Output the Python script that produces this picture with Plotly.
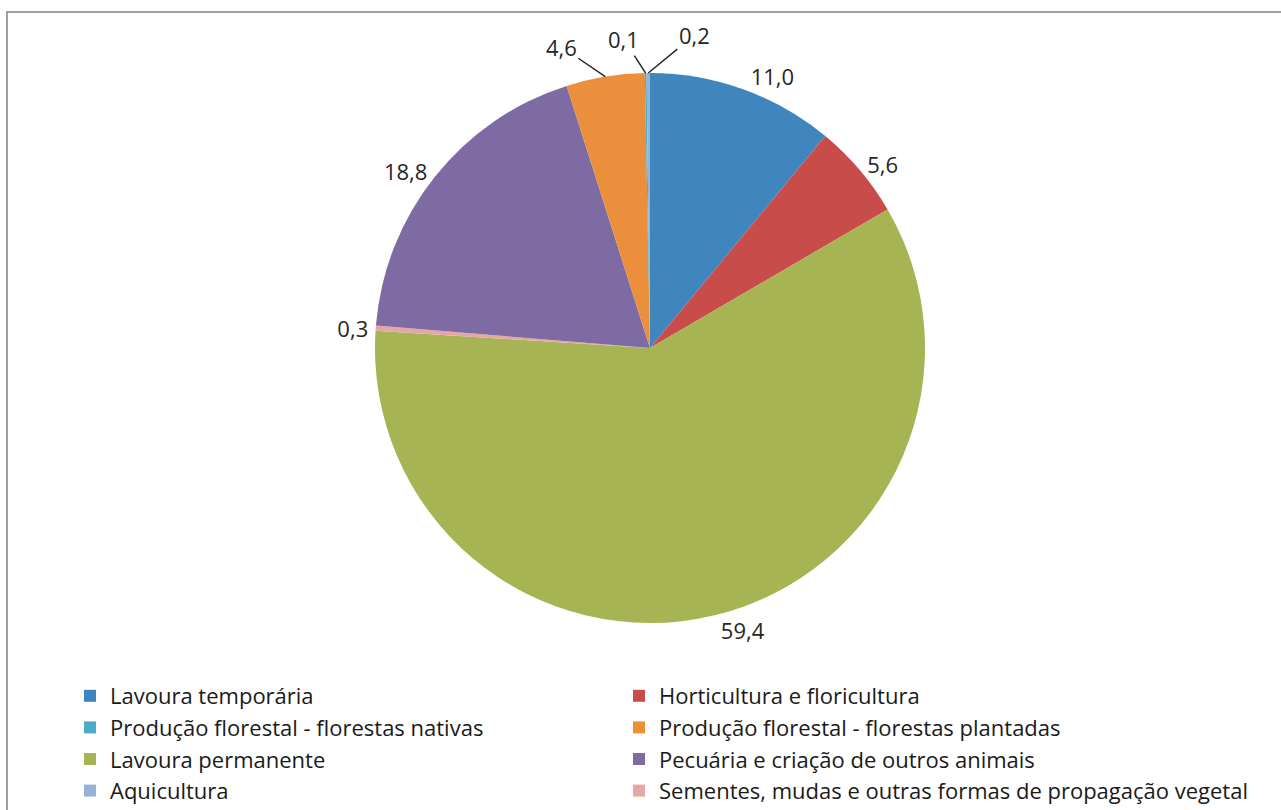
import math
import plotly.graph_objects as go

# Slice order, clockwise from 12 o'clock
labels = [
    "Lavoura temporária",
    "Horticultura e floricultura",
    "Lavoura permanente",
    "Sementes, mudas e outras formas de propagação vegetal",
    "Pecuária e criação de outros animais",
    "Produção florestal - florestas plantadas",
    "Produção florestal - florestas nativas",
    "Aquicultura",
]
values = [11.0, 5.6, 59.4, 0.3, 18.8, 4.6, 0.1, 0.2]
colors = ["#3F86BF", "#C84D4A", "#A6B453", "#E5A7A5", "#7F6BA3", "#EC8F3C", "#4BACC6", "#95B3D7"]

# Legend columns as shown in the reference
legend_col1 = [
    "Lavoura temporária",
    "Produção florestal - florestas nativas",
    "Lavoura permanente",
    "Aquicultura",
]
legend_col2 = [
    "Horticultura e floricultura",
    "Produção florestal - florestas plantadas",
    "Pecuária e criação de outros animais",
    "Sementes, mudas e outras formas de propagação vegetal",
]
# slices whose labels are drawn as callouts with leader lines (label offsets in px)
callouts = {"Produção florestal - florestas plantadas": (-44, -30),
            "Produção florestal - florestas nativas": (-22, -34),
            "Aquicultura": (46, -38)}

W, H = 1281, 810
cx, cy, r = 650, 348, 275
FONT = "Open Sans"
TXT = "#262626"
LBL = 22

texts = ["" if lab in callouts else f"{v:.1f}".replace(".", ",") for lab, v in zip(labels, values)]

fig = go.Figure()
fig.add_trace(go.Pie(
    labels=labels, values=values, sort=False, direction="clockwise", rotation=0,
    marker=dict(colors=colors, line=dict(width=0)),
    text=texts, textinfo="text", textposition="outside",
    textfont=dict(family=FONT, size=LBL, color=TXT),
    showlegend=False, hoverinfo="label+value", automargin=False,
    domain=dict(x=[(cx - r) / W, (cx + r) / W], y=[1 - (cy + r) / H, 1 - (cy - r) / H]),
))

# callout annotations anchored at the mid-angle of their slices (computed from the data)
total = sum(values)
cum = 0.0
annotations = []
for lab, v in zip(labels, values):
    mid = (cum + v / 2) / total * 2 * math.pi
    cum += v
    if lab in callouts:
        ax, ay = callouts[lab]
        px = cx + r * math.sin(mid)
        py = cy - r * math.cos(mid)
        annotations.append(dict(
            x=px / W, y=1 - py / H, xref="paper", yref="paper",
            text=f"{v:.1f}".replace(".", ","), showarrow=True, arrowhead=0,
            arrowwidth=1.5, arrowcolor=TXT, ax=ax, ay=ay, standoff=0,
            font=dict(family=FONT, size=LBL, color=TXT),
        ))

color_of = dict(zip(labels, colors))
for legend_id, names in (("legend", legend_col1), ("legend2", legend_col2)):
    for name in names:
        fig.add_trace(go.Scatter(
            x=[None], y=[None], mode="markers", name=name, legend=legend_id,
            marker=dict(symbol="square", size=13, color=color_of[name]),
        ))

legend_common = dict(
    orientation="v", yanchor="top", xanchor="left", traceorder="normal",
    font=dict(family=FONT, size=22, color="#1a1a1a"),
    itemsizing="constant", bgcolor="rgba(0,0,0,0)",
)
fig.update_layout(
    width=W, height=H,
    margin=dict(l=0, r=0, t=0, b=0, autoexpand=False),
    paper_bgcolor="white", plot_bgcolor="white",
    separators=",.",
    xaxis=dict(visible=False), yaxis=dict(visible=False),
    legend=dict(x=70 / W, y=1 - 675 / H, **legend_common),
    legend2=dict(x=619 / W, y=1 - 675 / H, **legend_common),
    annotations=annotations,
    shapes=[dict(type="rect", xref="paper", yref="paper",
                 x0=7 / W, x1=1.01, y0=-0.01, y1=1 - 12 / H,
                 line=dict(color="#A0A0A0", width=2))],
)

fig.write_html("out.html", config={"displayModeBar": False},
               post_script="document.body.style.margin='0';document.body.style.overflow='hidden';")
